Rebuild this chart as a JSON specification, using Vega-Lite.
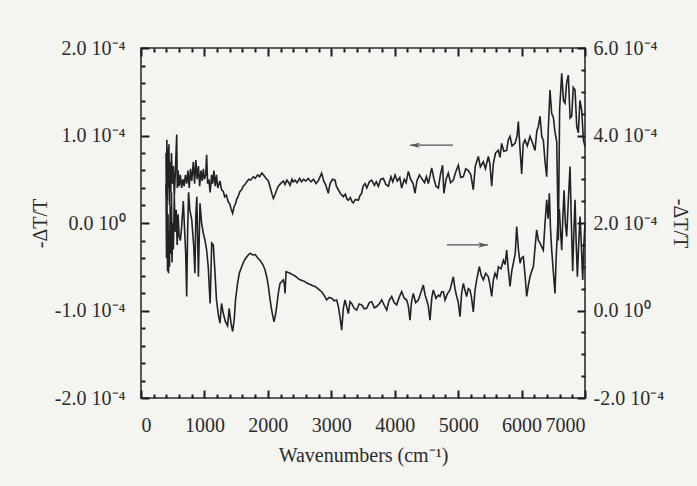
{
  "$schema": "https://vega.github.io/schema/vega-lite/v6.json",
  "width": 444,
  "height": 350,
  "autosize": {"type": "none"},
  "padding": {"left": 141, "top": 48, "right": 112, "bottom": 88},
  "background": "#f4f4f1",
  "config": {
    "view": {"stroke": "#2e2e2e", "strokeWidth": 1.6},
    "font": "Liberation Serif",
    "axis": {"domain": false, "grid": false, "ticks": true, "zindex": 1, "tickColor": "#1a1a1a", "tickWidth": 2, "labelFont": "Liberation Serif", "labelFontSize": 20, "labelColor": "#2b2b2b", "titleFont": "Liberation Serif", "titleFontSize": 20, "titleFontWeight": "normal", "titleColor": "#2b2b2b"}
  },
  "datasets": {
    "upper": [
      {"wn":394,"v":0.80},{"wn":400,"v":0.30},{"wn":408,"v":0.95},{"wn":416,"v":0.25},{"wn":424,"v":0.85},{"wn":432,"v":0.40},{"wn":440,"v":0.90},{"wn":450,"v":0.20},{"wn":460,"v":0.70},{"wn":470,"v":0.35},{"wn":480,"v":0.80},{"wn":495,"v":0.45},{"wn":510,"v":0.65},{"wn":525,"v":0.30},{"wn":540,"v":0.55},{"wn":555,"v":0.85},{"wn":563,"v":1.01},{"wn":572,"v":0.40},{"wn":585,"v":0.60},{"wn":600,"v":0.42},{"wn":620,"v":0.55},{"wn":640,"v":0.40},{"wn":660,"v":0.50},{"wn":680,"v":0.42},{"wn":700,"v":0.55},{"wn":720,"v":0.45},{"wn":740,"v":0.60},{"wn":760,"v":0.40},{"wn":780,"v":0.62},{"wn":800,"v":0.48},{"wn":825,"v":0.70},{"wn":845,"v":0.45},{"wn":865,"v":0.72},{"wn":885,"v":0.50},{"wn":905,"v":0.65},{"wn":925,"v":0.42},{"wn":945,"v":0.60},{"wn":965,"v":0.48},{"wn":983,"v":0.62},{"wn":1000,"v":0.50},{"wn":1020,"v":0.55},{"wn":1035,"v":0.78},{"wn":1050,"v":0.45},{"wn":1070,"v":0.50},{"wn":1090,"v":0.35},{"wn":1114,"v":0.55},{"wn":1130,"v":0.45},{"wn":1150,"v":0.60},{"wn":1170,"v":0.42},{"wn":1190,"v":0.55},{"wn":1210,"v":0.40},{"wn":1245,"v":0.48},{"wn":1270,"v":0.38},{"wn":1298,"v":0.36},{"wn":1320,"v":0.30},{"wn":1345,"v":0.32},{"wn":1377,"v":0.24},{"wn":1400,"v":0.22},{"wn":1420,"v":0.16},{"wn":1445,"v":0.11},{"wn":1465,"v":0.18},{"wn":1490,"v":0.22},{"wn":1508,"v":0.27},{"wn":1530,"v":0.30},{"wn":1560,"v":0.36},{"wn":1587,"v":0.38},{"wn":1610,"v":0.42},{"wn":1640,"v":0.44},{"wn":1666,"v":0.47},{"wn":1700,"v":0.50},{"wn":1730,"v":0.49},{"wn":1771,"v":0.53},{"wn":1800,"v":0.51},{"wn":1840,"v":0.55},{"wn":1870,"v":0.53},{"wn":1903,"v":0.57},{"wn":1930,"v":0.55},{"wn":1960,"v":0.52},{"wn":1985,"v":0.50},{"wn":2008,"v":0.48},{"wn":2040,"v":0.40},{"wn":2065,"v":0.33},{"wn":2087,"v":0.28},{"wn":2110,"v":0.32},{"wn":2140,"v":0.38},{"wn":2166,"v":0.42},{"wn":2200,"v":0.45},{"wn":2245,"v":0.48},{"wn":2270,"v":0.44},{"wn":2300,"v":0.49},{"wn":2330,"v":0.46},{"wn":2350,"v":0.43},{"wn":2380,"v":0.50},{"wn":2400,"v":0.47},{"wn":2428,"v":0.49},{"wn":2460,"v":0.46},{"wn":2500,"v":0.51},{"wn":2530,"v":0.47},{"wn":2560,"v":0.50},{"wn":2600,"v":0.48},{"wn":2638,"v":0.51},{"wn":2680,"v":0.47},{"wn":2720,"v":0.50},{"wn":2760,"v":0.45},{"wn":2800,"v":0.49},{"wn":2848,"v":0.57},{"wn":2880,"v":0.48},{"wn":2910,"v":0.44},{"wn":2953,"v":0.34},{"wn":2980,"v":0.45},{"wn":3020,"v":0.50},{"wn":3059,"v":0.49},{"wn":3080,"v":0.42},{"wn":3111,"v":0.38},{"wn":3150,"v":0.33},{"wn":3190,"v":0.30},{"wn":3220,"v":0.33},{"wn":3250,"v":0.27},{"wn":3269,"v":0.26},{"wn":3300,"v":0.29},{"wn":3330,"v":0.24},{"wn":3348,"v":0.23},{"wn":3380,"v":0.27},{"wn":3427,"v":0.26},{"wn":3450,"v":0.31},{"wn":3479,"v":0.34},{"wn":3500,"v":0.42},{"wn":3532,"v":0.45},{"wn":3560,"v":0.40},{"wn":3600,"v":0.47},{"wn":3637,"v":0.49},{"wn":3680,"v":0.43},{"wn":3710,"v":0.47},{"wn":3742,"v":0.42},{"wn":3780,"v":0.50},{"wn":3821,"v":0.51},{"wn":3860,"v":0.44},{"wn":3900,"v":0.42},{"wn":3940,"v":0.53},{"wn":3970,"v":0.47},{"wn":4005,"v":0.55},{"wn":4040,"v":0.48},{"wn":4080,"v":0.52},{"wn":4110,"v":0.40},{"wn":4150,"v":0.50},{"wn":4180,"v":0.46},{"wn":4215,"v":0.59},{"wn":4250,"v":0.50},{"wn":4290,"v":0.45},{"wn":4320,"v":0.34},{"wn":4350,"v":0.48},{"wn":4390,"v":0.55},{"wn":4425,"v":0.51},{"wn":4470,"v":0.46},{"wn":4500,"v":0.53},{"wn":4530,"v":0.45},{"wn":4560,"v":0.55},{"wn":4583,"v":0.63},{"wn":4620,"v":0.50},{"wn":4650,"v":0.42},{"wn":4688,"v":0.40},{"wn":4720,"v":0.55},{"wn":4755,"v":0.66},{"wn":4775,"v":0.34},{"wn":4810,"v":0.50},{"wn":4845,"v":0.57},{"wn":4880,"v":0.46},{"wn":4924,"v":0.49},{"wn":4960,"v":0.58},{"wn":5003,"v":0.66},{"wn":5040,"v":0.52},{"wn":5082,"v":0.53},{"wn":5120,"v":0.62},{"wn":5160,"v":0.60},{"wn":5200,"v":0.55},{"wn":5239,"v":0.38},{"wn":5270,"v":0.65},{"wn":5318,"v":0.76},{"wn":5350,"v":0.64},{"wn":5397,"v":0.70},{"wn":5430,"v":0.62},{"wn":5476,"v":0.76},{"wn":5500,"v":0.68},{"wn":5529,"v":0.42},{"wn":5555,"v":0.68},{"wn":5590,"v":0.80},{"wn":5634,"v":0.83},{"wn":5660,"v":0.75},{"wn":5686,"v":0.91},{"wn":5720,"v":0.82},{"wn":5765,"v":0.83},{"wn":5790,"v":0.95},{"wn":5818,"v":0.99},{"wn":5850,"v":0.88},{"wn":5897,"v":0.91},{"wn":5930,"v":1.00},{"wn":5949,"v":1.16},{"wn":5975,"v":0.85},{"wn":6002,"v":0.56},{"wn":6025,"v":0.90},{"wn":6054,"v":0.95},{"wn":6090,"v":0.88},{"wn":6133,"v":0.99},{"wn":6170,"v":0.92},{"wn":6212,"v":0.83},{"wn":6240,"v":1.05},{"wn":6264,"v":1.10},{"wn":6291,"v":1.22},{"wn":6320,"v":0.98},{"wn":6343,"v":0.95},{"wn":6370,"v":0.70},{"wn":6396,"v":0.53},{"wn":6420,"v":1.05},{"wn":6448,"v":1.52},{"wn":6475,"v":1.25},{"wn":6501,"v":1.21},{"wn":6525,"v":1.05},{"wn":6554,"v":0.93},{"wn":6580,"v":-0.20},{"wn":6600,"v":1.30},{"wn":6633,"v":1.71},{"wn":6660,"v":1.40},{"wn":6685,"v":1.37},{"wn":6710,"v":1.60},{"wn":6737,"v":1.69},{"wn":6765,"v":1.20},{"wn":6790,"v":1.22},{"wn":6815,"v":1.55},{"wn":6843,"v":1.52},{"wn":6870,"v":1.10},{"wn":6895,"v":1.03},{"wn":6920,"v":1.40},{"wn":6948,"v":1.29},{"wn":6975,"v":0.95},{"wn":7000,"v":0.87}
    ],
    "lower": [
      {"wn":394,"v":2.9},{"wn":402,"v":1.2},{"wn":410,"v":2.5},{"wn":418,"v":0.9},{"wn":426,"v":2.2},{"wn":434,"v":0.85},{"wn":442,"v":1.8},{"wn":450,"v":1.0},{"wn":460,"v":2.4},{"wn":470,"v":1.3},{"wn":480,"v":2.7},{"wn":490,"v":1.1},{"wn":500,"v":2.0},{"wn":510,"v":1.4},{"wn":525,"v":2.6},{"wn":540,"v":1.8},{"wn":555,"v":2.3},{"wn":570,"v":1.5},{"wn":585,"v":2.2},{"wn":600,"v":1.7},{"wn":620,"v":1.6},{"wn":640,"v":1.9},{"wn":667,"v":2.5},{"wn":690,"v":1.76},{"wn":705,"v":1.3},{"wn":720,"v":0.32},{"wn":735,"v":1.8},{"wn":750,"v":2.7},{"wn":770,"v":2.3},{"wn":800,"v":2.07},{"wn":830,"v":1.5},{"wn":850,"v":0.85},{"wn":865,"v":2.2},{"wn":880,"v":2.6},{"wn":905,"v":0.77},{"wn":930,"v":2.45},{"wn":955,"v":2.0},{"wn":983,"v":1.76},{"wn":1010,"v":1.6},{"wn":1035,"v":1.38},{"wn":1060,"v":1.0},{"wn":1090,"v":0.16},{"wn":1115,"v":1.54},{"wn":1140,"v":1.5},{"wn":1165,"v":0.9},{"wn":1190,"v":0.24},{"wn":1220,"v":-0.1},{"wn":1245,"v":-0.29},{"wn":1270,"v":0.16},{"wn":1298,"v":-0.07},{"wn":1330,"v":-0.25},{"wn":1365,"v":-0.35},{"wn":1390,"v":0.05},{"wn":1420,"v":-0.30},{"wn":1445,"v":-0.48},{"wn":1470,"v":-0.2},{"wn":1490,"v":0.24},{"wn":1520,"v":0.6},{"wn":1550,"v":0.85},{"wn":1587,"v":1.0},{"wn":1630,"v":1.15},{"wn":1680,"v":1.25},{"wn":1720,"v":1.31},{"wn":1760,"v":1.27},{"wn":1800,"v":1.28},{"wn":1840,"v":1.2},{"wn":1876,"v":1.15},{"wn":1920,"v":1.05},{"wn":1955,"v":0.93},{"wn":1985,"v":0.75},{"wn":2008,"v":0.55},{"wn":2035,"v":0.25},{"wn":2060,"v":0.01},{"wn":2097,"v":-0.26},{"wn":2120,"v":-0.1},{"wn":2139,"v":0.09},{"wn":2165,"v":0.40},{"wn":2192,"v":0.62},{"wn":2220,"v":0.66},{"wn":2245,"v":0.70},{"wn":2260,"v":0.60},{"wn":2271,"v":0.39},{"wn":2287,"v":0.89},{"wn":2320,"v":0.87},{"wn":2350,"v":0.85},{"wn":2390,"v":0.82},{"wn":2428,"v":0.79},{"wn":2470,"v":0.74},{"wn":2507,"v":0.70},{"wn":2550,"v":0.68},{"wn":2586,"v":0.66},{"wn":2620,"v":0.62},{"wn":2660,"v":0.60},{"wn":2700,"v":0.57},{"wn":2743,"v":0.55},{"wn":2790,"v":0.50},{"wn":2820,"v":0.46},{"wn":2848,"v":0.43},{"wn":2890,"v":0.34},{"wn":2927,"v":0.24},{"wn":2965,"v":0.30},{"wn":3006,"v":0.28},{"wn":3045,"v":0.22},{"wn":3085,"v":0.24},{"wn":3110,"v":0.10},{"wn":3137,"v":-0.14},{"wn":3164,"v":-0.45},{"wn":3190,"v":0.05},{"wn":3216,"v":0.24},{"wn":3240,"v":0.10},{"wn":3269,"v":-0.07},{"wn":3295,"v":0.20},{"wn":3321,"v":0.16},{"wn":3360,"v":0.05},{"wn":3400,"v":0.01},{"wn":3440,"v":0.15},{"wn":3479,"v":0.13},{"wn":3520,"v":0.04},{"wn":3558,"v":0.05},{"wn":3600,"v":0.18},{"wn":3637,"v":0.20},{"wn":3680,"v":0.06},{"wn":3716,"v":0.09},{"wn":3760,"v":0.16},{"wn":3795,"v":0.24},{"wn":3835,"v":0.12},{"wn":3874,"v":0.01},{"wn":3910,"v":0.22},{"wn":3952,"v":0.32},{"wn":3990,"v":0.18},{"wn":4031,"v":0.13},{"wn":4070,"v":0.30},{"wn":4110,"v":0.43},{"wn":4150,"v":0.28},{"wn":4189,"v":0.24},{"wn":4215,"v":0.10},{"wn":4241,"v":-0.22},{"wn":4265,"v":0.20},{"wn":4293,"v":0.39},{"wn":4330,"v":0.18},{"wn":4372,"v":0.24},{"wn":4410,"v":0.40},{"wn":4451,"v":0.58},{"wn":4480,"v":0.35},{"wn":4504,"v":0.24},{"wn":4530,"v":0.10},{"wn":4556,"v":-0.22},{"wn":4585,"v":0.30},{"wn":4609,"v":0.47},{"wn":4650,"v":0.28},{"wn":4688,"v":0.35},{"wn":4714,"v":0.32},{"wn":4740,"v":0.43},{"wn":4767,"v":0.43},{"wn":4793,"v":0.24},{"wn":4830,"v":0.38},{"wn":4872,"v":0.47},{"wn":4924,"v":0.77},{"wn":4950,"v":0.50},{"wn":4977,"v":0.32},{"wn":5000,"v":0.20},{"wn":5029,"v":-0.14},{"wn":5055,"v":0.40},{"wn":5082,"v":0.62},{"wn":5110,"v":0.45},{"wn":5134,"v":0.32},{"wn":5160,"v":0.50},{"wn":5187,"v":0.47},{"wn":5210,"v":0.30},{"wn":5239,"v":-0.03},{"wn":5265,"v":0.45},{"wn":5292,"v":0.70},{"wn":5334,"v":1.00},{"wn":5365,"v":0.80},{"wn":5397,"v":0.70},{"wn":5435,"v":0.85},{"wn":5476,"v":0.77},{"wn":5500,"v":0.60},{"wn":5529,"v":0.32},{"wn":5555,"v":0.70},{"wn":5581,"v":0.85},{"wn":5610,"v":0.75},{"wn":5634,"v":1.00},{"wn":5675,"v":0.95},{"wn":5713,"v":1.15},{"wn":5740,"v":1.05},{"wn":5765,"v":1.38},{"wn":5790,"v":0.95},{"wn":5818,"v":0.55},{"wn":5845,"v":0.90},{"wn":5870,"v":1.08},{"wn":5900,"v":1.30},{"wn":5923,"v":1.92},{"wn":5950,"v":1.40},{"wn":5976,"v":1.08},{"wn":6000,"v":1.20},{"wn":6028,"v":1.23},{"wn":6055,"v":0.80},{"wn":6081,"v":0.32},{"wn":6110,"v":0.60},{"wn":6133,"v":0.77},{"wn":6160,"v":0.90},{"wn":6186,"v":1.00},{"wn":6210,"v":1.40},{"wn":6238,"v":1.84},{"wn":6265,"v":1.60},{"wn":6291,"v":1.54},{"wn":6320,"v":1.45},{"wn":6343,"v":1.38},{"wn":6370,"v":2.00},{"wn":6396,"v":2.53},{"wn":6418,"v":2.10},{"wn":6438,"v":2.68},{"wn":6455,"v":1.90},{"wn":6475,"v":1.38},{"wn":6500,"v":0.90},{"wn":6527,"v":0.39},{"wn":6545,"v":1.20},{"wn":6564,"v":1.76},{"wn":6580,"v":2.30},{"wn":6596,"v":2.30},{"wn":6615,"v":1.80},{"wn":6633,"v":1.38},{"wn":6650,"v":2.10},{"wn":6670,"v":2.75},{"wn":6690,"v":2.00},{"wn":6711,"v":1.69},{"wn":6740,"v":2.60},{"wn":6764,"v":3.29},{"wn":6785,"v":2.00},{"wn":6806,"v":0.90},{"wn":6825,"v":1.80},{"wn":6843,"v":2.53},{"wn":6860,"v":1.60},{"wn":6880,"v":0.77},{"wn":6900,"v":1.50},{"wn":6922,"v":2.15},{"wn":6945,"v":1.40},{"wn":6964,"v":0.70},{"wn":6982,"v":1.50},{"wn":7000,"v":1.99}
    ],
    "shafts": [
      {"from": 4241, "to": 4919, "yl": 0.89},
      {"from": 4824, "to": 5471, "yl": -0.25}
    ],
    "heads": [
      {"wn": 4241, "yr": 3.78, "dir": "left"},
      {"wn": 5471, "yr": 1.50, "dir": "right"}
    ]
  },
  "layer": [
    {
      "data": {"name": "upper"},
      "mark": {"type": "line", "stroke": "#222222", "strokeWidth": 1.6},
      "encoding": {
        "x": {"field": "wn", "type": "quantitative", "scale": {"domain": [0, 7000], "nice": false, "zero": false},
          "axis": {"orient": "bottom", "values": [0,1000,2000,3000,4000,5000,6000,7000], "format": "d", "tickSize": -8, "labelPadding": 25, "title": "Wavenumbers (cm⁻¹)", "titlePadding": 10}},
        "y": {"field": "v", "type": "quantitative", "scale": {"domain": [-2, 2], "nice": false, "zero": false},
          "axis": {"orient": "left", "values": [-2,-1,0,1,2], "tickSize": -8, "labelPadding": 24, "labelExpr": "datum.value == 0 ? '0.0 10⁰' : (datum.value < 0 ? '-' : '') + format(abs(datum.value), '.1f') + ' 10⁻⁴'", "title": "-ΔT/T", "titlePadding": 4}}
      }
    },
    {
      "data": {"name": "lower"},
      "mark": {"type": "line", "stroke": "#222222", "strokeWidth": 1.6},
      "encoding": {
        "x": {"field": "wn", "type": "quantitative", "scale": {"domain": [0, 7000], "nice": false, "zero": false},
          "axis": {"orient": "top", "values": [0,1000,2000,3000,4000,5000,6000,7000], "tickSize": -8, "labels": false, "title": null}},
        "y": {"field": "v", "type": "quantitative", "scale": {"domain": [-2, 6], "nice": false, "zero": false},
          "axis": {"orient": "right", "values": [-2,0,2,4,6], "tickSize": -8, "labelPadding": 16, "labelExpr": "datum.value == 0 ? '0.0 10⁰' : (datum.value < 0 ? '-' : '') + format(abs(datum.value), '.1f') + ' 10⁻⁴'", "title": "-ΔT/T", "titlePadding": 6}}
      }
    },
    {
      "data": {"name": "shafts"},
      "mark": {"type": "rule", "stroke": "#555555", "strokeWidth": 1.1},
      "encoding": {
        "x": {"field": "from", "type": "quantitative", "scale": {"domain": [0, 7000], "nice": false, "zero": false},
          "axis": {"orient": "bottom", "values": [200,400,600,800,1200,1400,1600,1800,2200,2400,2600,2800,3200,3400,3600,3800,4200,4400,4600,4800,5200,5400,5600,5800,6200,6400,6600,6800], "tickSize": -4, "labels": false, "title": null}},
        "x2": {"field": "to"},
        "y": {"field": "yl", "type": "quantitative", "scale": {"domain": [-2, 2], "nice": false, "zero": false},
          "axis": {"orient": "left", "values": [-1.8,-1.6,-1.4,-1.2,-0.8,-0.6,-0.4,-0.2,0.2,0.4,0.6,0.8,1.2,1.4,1.6,1.8], "tickSize": -4, "labels": false, "title": null}}
      }
    },
    {
      "data": {"name": "heads"},
      "mark": {"type": "point", "filled": true, "fill": "#555555", "opacity": 1, "size": 100, "strokeWidth": 0},
      "encoding": {
        "x": {"field": "wn", "type": "quantitative", "scale": {"domain": [0, 7000], "nice": false, "zero": false},
          "axis": {"orient": "top", "values": [200,400,600,800,1200,1400,1600,1800,2200,2400,2600,2800,3200,3400,3600,3800,4200,4400,4600,4800,5200,5400,5600,5800,6200,6400,6600,6800], "tickSize": -4, "labels": false, "title": null}},
        "y": {"field": "yr", "type": "quantitative", "scale": {"domain": [-2, 6], "nice": false, "zero": false},
          "axis": {"orient": "right", "values": [-1.5,-1,-0.5,0.5,1,1.5,2.5,3,3.5,4.5,5,5.5], "tickSize": -4, "labels": false, "title": null}},
        "shape": {"field": "dir", "type": "nominal", "legend": null,
          "scale": {"domain": ["left", "right"], "range": ["M 0 0 L 2 -0.55 L 1.4 0 L 2 0.55 Z", "M 0 0 L -2 -0.55 L -1.4 0 L -2 0.55 Z"]}}
      }
    }
  ],
  "resolve": {"scale": {"y": "independent"}, "axis": {"x": "independent", "y": "independent"}}
}
